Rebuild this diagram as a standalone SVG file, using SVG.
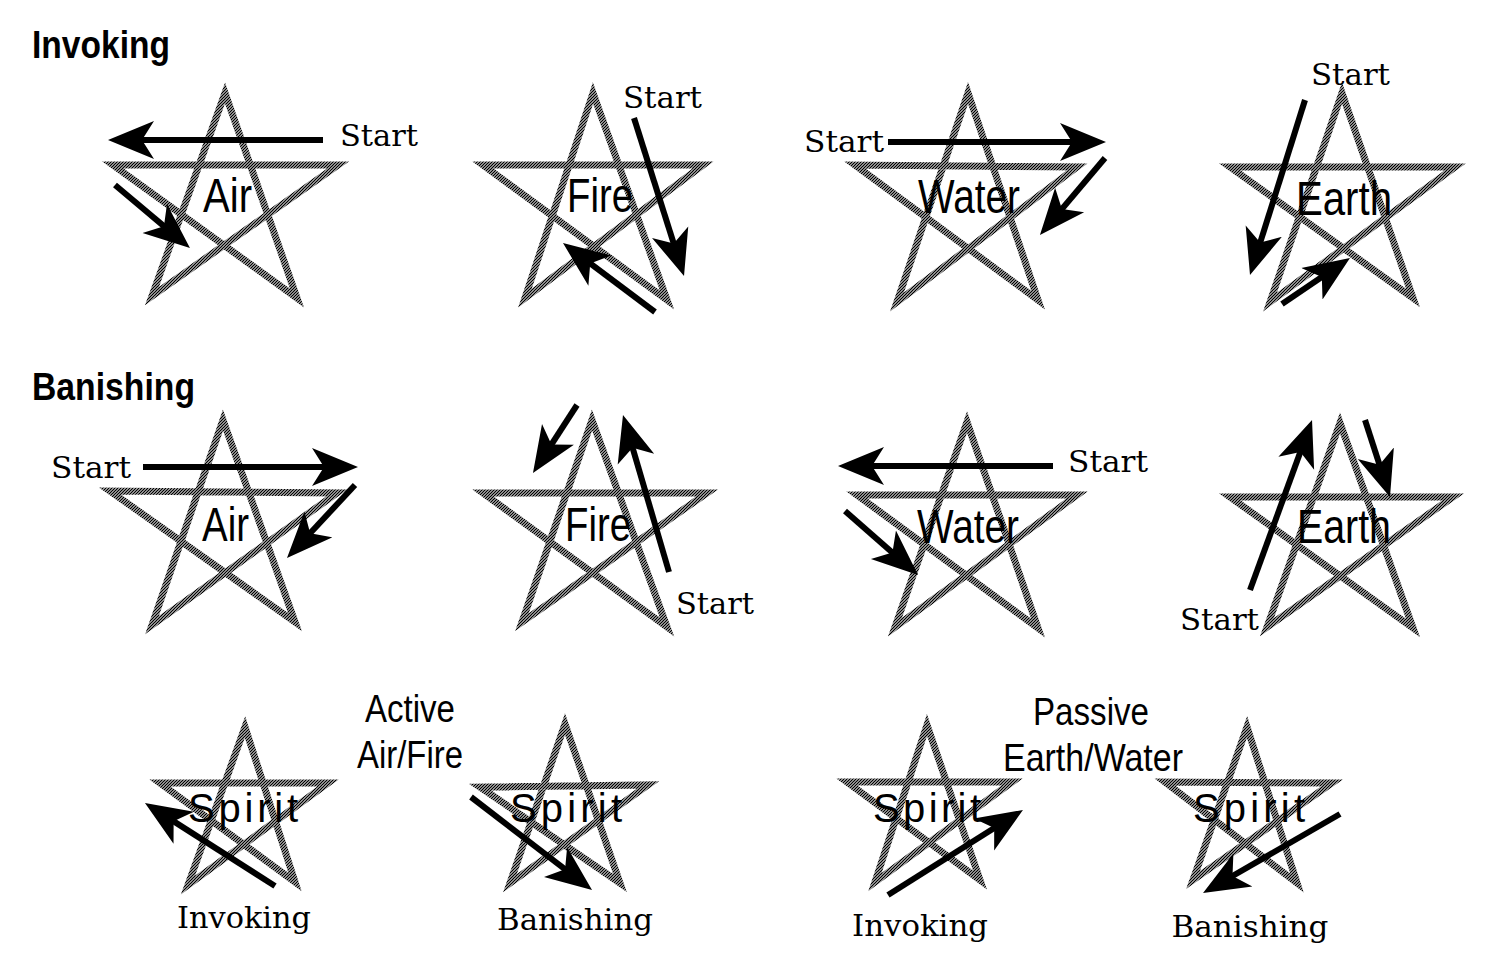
<svg xmlns="http://www.w3.org/2000/svg" width="1500" height="972" viewBox="0 0 1500 972">
<style>
.star{fill:none;stroke:url(#hatch);stroke-width:7;stroke-linejoin:miter;stroke-miterlimit:10}
.arrow{fill:none;stroke:#000;stroke-width:6;marker-end:url(#ah)}
.start{font-family:"DejaVu Serif","Liberation Serif",serif;font-size:29px;fill:#000}
.cap{font-family:"DejaVu Serif","Liberation Serif",serif;font-size:30px;fill:#000}
.head{font-family:"Liberation Sans",Arial,sans-serif;font-weight:bold;font-size:39px;fill:#000}
.el{font-family:"Liberation Sans",Arial,sans-serif;font-size:48px;fill:#000}
.sp{font-family:"Liberation Sans",Arial,sans-serif;font-size:40px;fill:#000}
.grp{font-family:"Liberation Sans",Arial,sans-serif;font-size:39px;fill:#000}
</style>
<defs>
<pattern id="hatch" patternUnits="userSpaceOnUse" width="3" height="3">
<rect width="3" height="3" fill="#fff"/>
<path d="M-1,1 L1,-1 M0,3 L3,0 M2,4 L4,2" stroke="#000" stroke-width="1.3"/>
</pattern>
<marker id="ah" markerUnits="userSpaceOnUse" viewBox="0 -20 48 40" markerWidth="48" markerHeight="40" refX="36" refY="0" orient="auto">
<path d="M46,0 L0,-19 L12,0 L0,19 Z" fill="#000"/>
</marker>
</defs>
<rect width="1500" height="972" fill="#fff"/>

<text class="head" x="32" y="58" textLength="138" lengthAdjust="spacingAndGlyphs">Invoking</text>
<text class="head" x="32" y="400" textLength="163" lengthAdjust="spacingAndGlyphs">Banishing</text>

<g id="inv-air">
<path class="star" d="M225,93 L152,296 L338,165 L113,165 L297,298 Z"/>
<text class="el" x="203" y="212" textLength="49" lengthAdjust="spacingAndGlyphs">Air</text>
<text class="start" x="340" y="146" textLength="78" lengthAdjust="spacingAndGlyphs">Start</text>
</g>
<g id="inv-fire">
<path class="star" d="M593,93 L525,298 L703,165 L483,165 L667,300 Z"/>
<text class="el" x="567" y="212" textLength="66" lengthAdjust="spacingAndGlyphs">Fire</text>
<text class="start" x="623" y="108" textLength="79" lengthAdjust="spacingAndGlyphs">Start</text>
</g>
<g id="inv-water">
<path class="star" d="M968,93 L897,302 L1077,167 L855,165 L1038,300 Z"/>
<text class="el" x="918" y="213" textLength="102" lengthAdjust="spacingAndGlyphs">Water</text>
<text class="start" x="804" y="152" textLength="80" lengthAdjust="spacingAndGlyphs">Start</text>
</g>
<g id="inv-earth">
<path class="star" d="M1342,93 L1270,302 L1455,167 L1230,167 L1413,298 Z"/>
<text class="el" x="1296" y="215" textLength="96" lengthAdjust="spacingAndGlyphs">Earth</text>
<text class="start" x="1311" y="85" textLength="79" lengthAdjust="spacingAndGlyphs">Start</text>
</g>

<g id="ban-air">
<path class="star" d="M223,420 L152,625 L337,493 L110,491 L295,622 Z"/>
<text class="el" x="202" y="541" textLength="47" lengthAdjust="spacingAndGlyphs">Air</text>
<text class="start" x="51" y="478" textLength="80" lengthAdjust="spacingAndGlyphs">Start</text>
</g>
<g id="ban-fire">
<path class="star" d="M592,420 L522,622 L707,493 L483,493 L667,627 Z"/>
<text class="el" x="565" y="541" textLength="66" lengthAdjust="spacingAndGlyphs">Fire</text>
<text class="start" x="676" y="614" textLength="78" lengthAdjust="spacingAndGlyphs">Start</text>
</g>
<g id="ban-water">
<path class="star" d="M967,422 L895,627 L1077,495 L857,495 L1038,628 Z"/>
<text class="el" x="917" y="543" textLength="102" lengthAdjust="spacingAndGlyphs">Water</text>
<text class="start" x="1068" y="472" textLength="80" lengthAdjust="spacingAndGlyphs">Start</text>
</g>
<g id="ban-earth">
<path class="star" d="M1340,423 L1267,627 L1453,497 L1230,497 L1413,628 Z"/>
<text class="el" x="1297" y="543" textLength="94" lengthAdjust="spacingAndGlyphs">Earth</text>
<text class="start" x="1180" y="630" textLength="79" lengthAdjust="spacingAndGlyphs">Start</text>
</g>

<g id="active-label">
<text class="grp" x="365" y="722" textLength="90" lengthAdjust="spacingAndGlyphs">Active</text>
<text class="grp" x="357" y="768" textLength="106" lengthAdjust="spacingAndGlyphs">Air/Fire</text>
</g>
<g id="passive-label">
<text class="grp" x="1033" y="725" textLength="116" lengthAdjust="spacingAndGlyphs">Passive</text>
<text class="grp" x="1003" y="771" textLength="180" lengthAdjust="spacingAndGlyphs">Earth/Water</text>
</g>

<g id="spirit-active-inv">
<path class="star" d="M245,727 L188,885 L328,783 L160,783 L295,882 Z"/>
<text class="sp" x="188" y="822" textLength="110" lengthAdjust="spacing">Spirit</text>
<text class="cap" x="244" y="928" text-anchor="middle" textLength="134" lengthAdjust="spacingAndGlyphs">Invoking</text>
</g>
<g id="spirit-active-ban">
<path class="star" d="M565,724 L510,883 L648,785 L480,787 L620,883 Z"/>
<text class="sp" x="510" y="822" textLength="112" lengthAdjust="spacing">Spirit</text>
<text class="cap" x="575" y="930" text-anchor="middle" textLength="156" lengthAdjust="spacingAndGlyphs">Banishing</text>
</g>
<g id="spirit-passive-inv">
<path class="star" d="M927,725 L875,882 L1012,782 L847,782 L980,880 Z"/>
<text class="sp" x="873" y="822" textLength="108" lengthAdjust="spacing">Spirit</text>
<text class="cap" x="920" y="936" text-anchor="middle" textLength="136" lengthAdjust="spacingAndGlyphs">Invoking</text>
</g>
<g id="spirit-passive-ban">
<path class="star" d="M1247,727 L1193,880 L1332,783 L1165,782 L1297,883 Z"/>
<text class="sp" x="1193" y="822" textLength="112" lengthAdjust="spacing">Spirit</text>
<text class="cap" x="1250" y="937" text-anchor="middle" textLength="157" lengthAdjust="spacingAndGlyphs">Banishing</text>
</g>

<g id="connectors">
<path class="arrow" d="M323,140 L118,140"/>
<path class="arrow" d="M115,185 L182.3,241.6"/>
<path class="arrow" d="M634,118 L681,266.5"/>
<path class="arrow" d="M655,312 L571,249"/>
<path class="arrow" d="M888,142 L1096,142"/>
<path class="arrow" d="M1105,158 L1046.4,227.4"/>
<path class="arrow" d="M1305,100 L1253,265.5"/>
<path class="arrow" d="M1282,304 L1341.7,263.6"/>
<path class="arrow" d="M143,467 L348,467"/>
<path class="arrow" d="M355,485 L293.8,550.7"/>
<path class="arrow" d="M577,405 L538.4,464.6"/>
<path class="arrow" d="M669,572 L625.8,424.6"/>
<path class="arrow" d="M1053,466 L848,466"/>
<path class="arrow" d="M845,511 L910.5,568.4"/>
<path class="arrow" d="M1250,590 L1308.6,429.4"/>
<path class="arrow" d="M1365,420 L1386.9,487.5"/>
<path class="arrow" d="M275,886 L153.4,808.4"/>
<path class="arrow" d="M471,797 L584.1,883.9"/>
<path class="arrow" d="M888,895 L1014.5,815.3"/>
<path class="arrow" d="M1340,814 L1211.7,888"/>
</g>
</svg>
